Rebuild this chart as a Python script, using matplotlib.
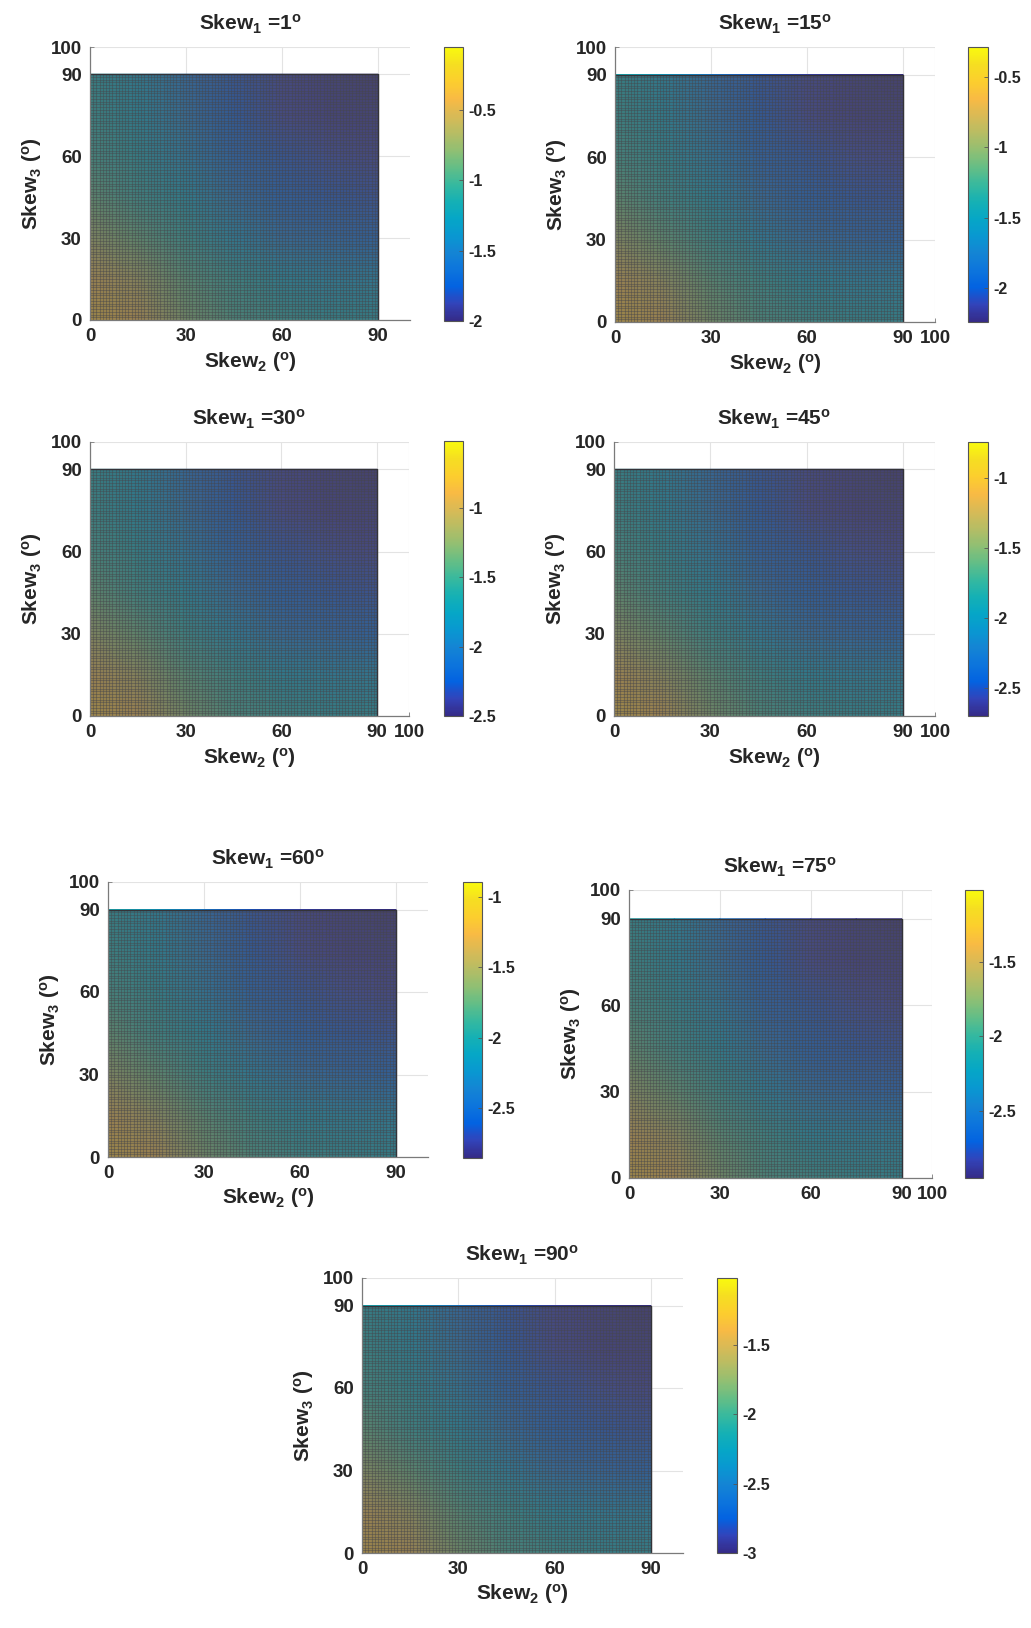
import numpy as np
import matplotlib
matplotlib.use("Agg")
import matplotlib.pyplot as plt
from matplotlib.colors import LinearSegmentedColormap, Normalize
from matplotlib.collections import LineCollection

plt.rcParams['font.family'] = ['Liberation Sans', 'DejaVu Sans']
plt.rcParams['font.weight'] = 'bold'
plt.rcParams['axes.labelweight'] = 'bold'
plt.rcParams['axes.titleweight'] = 'bold'
plt.rcParams['mathtext.fontset'] = 'custom'
plt.rcParams['mathtext.rm'] = 'Liberation Sans:bold'
plt.rcParams['mathtext.it'] = 'Liberation Sans:bold'
plt.rcParams['mathtext.bf'] = 'Liberation Sans:bold'
plt.rcParams['axes.unicode_minus'] = False

# ---- data ----
skew1 = [1, 15, 30, 45, 60, 75, 90]
nodes = [0, 15, 30, 45, 60, 75, 90]   # Skew2 (columns) and Skew3 (rows)

z_1 = [[-0.34, -0.44, -0.79, -0.99, -1.10, -1.16, -1.18],
       [-0.44, -0.63, -0.93, -1.10, -1.26, -1.34, -1.36],
       [-0.67, -0.89, -1.10, -1.34, -1.53, -1.61, -1.67],
       [-0.89, -1.08, -1.26, -1.53, -1.71, -1.79, -1.82],
       [-1.02, -1.18, -1.41, -1.67, -1.80, -1.86, -1.90],
       [-1.10, -1.26, -1.51, -1.77, -1.88, -1.94, -1.96],
       [-1.14, -1.30, -1.57, -1.80, -1.90, -1.96, -2.00]]

z_15 = [[-0.58, -0.68, -1.03, -1.23, -1.34, -1.40, -1.42],
        [-0.68, -0.87, -1.17, -1.34, -1.50, -1.58, -1.60],
        [-0.91, -1.13, -1.34, -1.58, -1.77, -1.85, -1.91],
        [-1.13, -1.32, -1.50, -1.77, -1.95, -2.03, -2.06],
        [-1.26, -1.42, -1.65, -1.91, -2.04, -2.10, -2.14],
        [-1.34, -1.50, -1.75, -2.01, -2.12, -2.18, -2.20],
        [-1.38, -1.54, -1.81, -2.04, -2.14, -2.20, -2.24]]

z_30 = [[-0.82, -0.92, -1.27, -1.48, -1.59, -1.65, -1.67],
        [-0.92, -1.11, -1.41, -1.59, -1.75, -1.83, -1.85],
        [-1.15, -1.37, -1.59, -1.84, -2.03, -2.11, -2.17],
        [-1.37, -1.57, -1.75, -2.03, -2.21, -2.29, -2.32],
        [-1.51, -1.67, -1.90, -2.17, -2.30, -2.36, -2.40],
        [-1.59, -1.75, -2.01, -2.27, -2.38, -2.44, -2.46],
        [-1.63, -1.79, -2.07, -2.30, -2.40, -2.46, -2.50]]

z_45 = [[-1.03, -1.13, -1.48, -1.68, -1.80, -1.86, -1.88],
        [-1.13, -1.33, -1.62, -1.80, -1.96, -2.03, -2.05],
        [-1.37, -1.58, -1.80, -2.04, -2.23, -2.31, -2.37],
        [-1.58, -1.78, -1.96, -2.23, -2.41, -2.49, -2.52],
        [-1.72, -1.88, -2.11, -2.37, -2.50, -2.56, -2.60],
        [-1.80, -1.96, -2.21, -2.47, -2.58, -2.64, -2.66],
        [-1.84, -2.00, -2.27, -2.50, -2.60, -2.66, -2.70]]

z_60 = [[-1.19, -1.29, -1.64, -1.84, -1.96, -2.02, -2.04],
        [-1.29, -1.49, -1.78, -1.96, -2.12, -2.19, -2.21],
        [-1.53, -1.74, -1.96, -2.20, -2.39, -2.47, -2.53],
        [-1.74, -1.94, -2.12, -2.39, -2.57, -2.65, -2.68],
        [-1.88, -2.04, -2.27, -2.53, -2.66, -2.72, -2.76],
        [-1.96, -2.12, -2.37, -2.63, -2.74, -2.80, -2.82],
        [-2.00, -2.16, -2.43, -2.66, -2.76, -2.82, -2.86]]

z_75 = [[-1.31, -1.41, -1.75, -1.95, -2.06, -2.12, -2.14],
        [-1.41, -1.60, -1.89, -2.06, -2.22, -2.29, -2.31],
        [-1.64, -1.85, -2.06, -2.29, -2.48, -2.56, -2.62],
        [-1.85, -2.04, -2.22, -2.48, -2.66, -2.74, -2.77],
        [-1.98, -2.14, -2.36, -2.62, -2.75, -2.81, -2.85],
        [-2.06, -2.22, -2.46, -2.72, -2.83, -2.89, -2.91],
        [-2.10, -2.26, -2.52, -2.75, -2.85, -2.91, -2.95]]

z_90 = [[-1.34, -1.44, -1.79, -1.99, -2.10, -2.16, -2.18],
        [-1.44, -1.63, -1.93, -2.10, -2.26, -2.34, -2.36],
        [-1.67, -1.89, -2.10, -2.34, -2.53, -2.61, -2.67],
        [-1.89, -2.08, -2.26, -2.53, -2.71, -2.79, -2.82],
        [-2.02, -2.18, -2.41, -2.67, -2.80, -2.86, -2.90],
        [-2.10, -2.26, -2.51, -2.77, -2.88, -2.94, -2.96],
        [-2.14, -2.30, -2.57, -2.80, -2.90, -2.96, -3.00]]

z_all = [z_1, z_15, z_30, z_45, z_60, z_75, z_90]

c_min = [-2.00, -2.24, -2.50, -2.70, -2.86, -2.95, -3.00]
c_max = [-0.05, -0.29, -0.52, -0.74, -0.89, -1.02, -1.02]
c_ticks = [[-2, -1.5, -1, -0.5],
           [-2, -1.5, -1, -0.5],
           [-2.5, -2, -1.5, -1],
           [-2.5, -2, -1.5, -1],
           [-2.5, -2, -1.5, -1],
           [-2.5, -2, -1.5],
           [-3, -2.5, -2, -1.5]]
c_labels = [["-2", "-1.5", "-1", "-0.5"],
            ["-2", "-1.5", "-1", "-0.5"],
            ["-2.5", "-2", "-1.5", "-1"],
            ["-2.5", "-2", "-1.5", "-1"],
            ["-2.5", "-2", "-1.5", "-1"],
            ["-2.5", "-2", "-1.5"],
            ["-3", "-2.5", "-2", "-1.5"]]

x_ticks_short = [0, 30, 60, 90]
x_ticks_long = [0, 30, 60, 90, 100]
y_ticks = [0, 30, 60, 90, 100]

# ---- layout (pixels: left, top, right, bottom) ----
W, H = 1031, 1628
ax_px = [(90, 47, 410, 320), (615, 47, 935, 322),
         (90, 442, 409, 716), (614, 442, 935, 716),
         (108, 882, 428, 1157), (629, 890, 932, 1178),
         (362, 1278, 683, 1553)]
cb_px = [(444, 47, 463, 321), (968, 47, 988, 322),
         (444, 441, 463, 716), (968, 442, 988, 716),
         (463, 882, 482, 1158), (965, 890, 983, 1178),
         (717, 1278, 737, 1553)]
long_x = [False, True, True, True, False, True, False]
has_xlabel = [True, True, True, True, True, False, True]

parula_pts = [
    (0.2081, 0.1663, 0.5292), (0.1959, 0.2645, 0.7279), (0.0117, 0.3875, 0.8820),
    (0.0498, 0.4586, 0.8641), (0.0793, 0.5200, 0.8312), (0.0343, 0.5966, 0.8199),
    (0.0228, 0.6535, 0.7768), (0.0843, 0.6928, 0.7062), (0.2178, 0.7250, 0.6193),
    (0.3953, 0.7459, 0.5244), (0.5709, 0.7485, 0.4494), (0.7184, 0.7411, 0.3905),
    (0.8507, 0.7299, 0.3360), (0.9739, 0.7314, 0.2666), (0.9880, 0.8066, 0.1794),
    (0.9626, 0.8705, 0.1309), (0.9763, 0.9831, 0.0538)]
parula = LinearSegmentedColormap.from_list("parula", parula_pts, N=256)

txt = '#262626'


def rect(p):
    l, t, r, b = p
    return [l / W, 1 - b / H, (r - l) / W, (b - t) / H]


fig = plt.figure(figsize=(W / 100, H / 100), dpi=100)

X, Y = np.meshgrid(nodes, nodes)
mesh_step = np.arange(0, 91)
segs = [[(d, 0), (d, 90)] for d in mesh_step] + [[(0, d), (90, d)] for d in mesh_step]

for i in range(len(skew1)):
    ax = fig.add_axes(rect(ax_px[i]))
    norm = Normalize(vmin=c_min[i], vmax=c_max[i])
    pc = ax.pcolormesh(X, Y, np.array(z_all[i]), cmap=parula, norm=norm,
                       shading='gouraud', zorder=2)
    # dense surface edge lines mute the face colours
    ax.add_patch(plt.Rectangle((0, 0), 90, 90, facecolor=(0.34, 0.34, 0.36),
                               alpha=0.55, edgecolor='none', zorder=2.5))
    ax.add_collection(LineCollection(segs, colors=(0.27, 0.27, 0.29),
                                     linewidths=0.85, alpha=0.45, zorder=3))
    ax.plot([0, 90, 90], [90, 90, 0], color=(0.2, 0.2, 0.22), lw=1.0, zorder=3.5)
    ax.set_xlim(0, 100)
    ax.set_ylim(0, 100)
    ax.set_xticks(x_ticks_long if long_x[i] else x_ticks_short)
    ax.set_yticks(y_ticks)
    ax.grid(True, color='#e3e3e3', linewidth=0.8, zorder=0)
    ax.set_axisbelow(True)
    for s in ['top', 'right']:
        ax.spines[s].set_visible(False)
    for s in ['left', 'bottom']:
        ax.spines[s].set_color('#7a7a7a')
        ax.spines[s].set_linewidth(0.9)
        ax.spines[s].set_zorder(4)
    ax.tick_params(direction='in', length=3, width=0.6, colors='#7a7a7a',
                   labelcolor=txt, labelsize=13.5, pad=6)
    for lab in ax.get_xticklabels() + ax.get_yticklabels():
        lab.set_fontweight('bold')
    ax.set_ylabel(r'Skew$_3$ ($^o$)', fontsize=15, color=txt, labelpad=5,
                  fontweight='bold')
    if has_xlabel[i]:
        ax.set_xlabel(r'Skew$_2$ ($^o$)', fontsize=15, color=txt, labelpad=3,
                      fontweight='bold')
    ax.set_title(r'Skew$_1$ =%d$^o$' % skew1[i], fontsize=15, color=txt,
                 fontweight='bold', pad=12)

    cax = fig.add_axes(rect(cb_px[i]))
    cb = fig.colorbar(pc, cax=cax)
    cb.set_ticks(c_ticks[i])
    cb.set_ticklabels(c_labels[i])
    cb.outline.set_edgecolor('#555555')
    cb.outline.set_linewidth(0.8)
    cax.tick_params(direction='in', length=3, width=0.6, colors='#555555',
                    labelcolor=txt, labelsize=11.5, pad=4)
    for lab in cax.get_yticklabels():
        lab.set_fontweight('bold')

fig.savefig('out.png', dpi=100)
